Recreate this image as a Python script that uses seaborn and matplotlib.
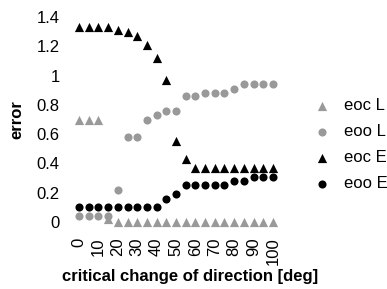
import numpy as np
import pandas as pd
import matplotlib
matplotlib.use("Agg")
import matplotlib.pyplot as plt
import seaborn as sns

# critical change of direction [deg]
angles = list(range(0, 101, 5))

eoc_L = [0.70, 0.70, 0.70, 0.02, 0, 0, 0, 0, 0, 0, 0,
         0, 0, 0, 0, 0, 0, 0, 0, 0, 0]
eoo_L = [0.04, 0.04, 0.04, 0.04, 0.22, 0.58, 0.58, 0.70, 0.73, 0.76, 0.76,
         0.86, 0.86, 0.88, 0.88, 0.88, 0.91, 0.94, 0.94, 0.94, 0.94]
eoc_E = [1.33, 1.33, 1.33, 1.33, 1.31, 1.30, 1.27, 1.21, 1.12, 0.97, 0.55,
         0.43, 0.37, 0.37, 0.37, 0.37, 0.37, 0.37, 0.37, 0.37, 0.37]
eoo_E = [0.10, 0.10, 0.10, 0.10, 0.10, 0.10, 0.10, 0.10, 0.10, 0.16, 0.19,
         0.25, 0.25, 0.25, 0.25, 0.25, 0.28, 0.28, 0.31, 0.31, 0.31]

yticks = [0, 0.2, 0.4, 0.6, 0.8, 1, 1.2, 1.4]
ytick_labels = ["0", "0.2", "0.4", "0.6", "0.8", "1", "1.2", "1.4"]
xticks = list(range(0, 101, 10))

sns.set_style("white")
plt.rcParams["font.family"] = ["Liberation Sans", "DejaVu Sans"]
plt.rcParams["text.color"] = "black"
plt.rcParams["axes.labelcolor"] = "black"
plt.rcParams["xtick.color"] = "black"
plt.rcParams["ytick.color"] = "black"

gray = "#999999"
series = [
    ("eoo L", eoo_L, gray, "o", 34),
    ("eoc L", eoc_L, gray, "^", 44),
    ("eoc E", eoc_E, "black", "^", 44),
    ("eoo E", eoo_E, "black", "o", 34),
]

fig = plt.figure(figsize=(3.87, 2.89), dpi=100)
ax = fig.add_axes([69.3 / 387, 0.2014, 213.4 / 387, 0.770])

for name, vals, color, marker, size in series:
    df = pd.DataFrame({"angle": angles, "error": vals})
    sns.scatterplot(data=df, x="angle", y="error", color=color, marker=marker,
                    s=size, linewidth=0, label=name, ax=ax)

fs = 12
ax.set_xlim(-5, 105)
ax.set_ylim(-0.06, 1.46)
ax.set_xticks(xticks)
ax.set_xticklabels([str(t) for t in xticks], rotation=90, fontsize=fs)
ax.set_yticks(yticks)
ax.set_yticklabels(ytick_labels, fontsize=fs)
ax.tick_params(axis="both", length=0)
ax.tick_params(axis="y", pad=7)
ax.tick_params(axis="x", pad=5)
sns.despine(ax=ax, left=True, bottom=True)

ax.set_xlabel("critical change of direction [deg]", fontsize=fs, fontweight="bold")
ax.xaxis.set_label_coords(0.566, -0.17)
ax.set_ylabel("error", fontsize=fs, fontweight="bold", labelpad=9)

handles, labels = ax.get_legend_handles_labels()
order = ["eoc L", "eoo L", "eoc E", "eoo E"]
hmap = dict(zip(labels, handles))
ax.legend([hmap[k] for k in order], order, loc="upper left",
          bbox_to_anchor=(314 / 387, 1 - 98 / 289), bbox_transform=fig.transFigure,
          frameon=False, fontsize=fs, handlelength=1, handletextpad=0.8,
          labelspacing=0.66, borderpad=0, borderaxespad=0)

fig.savefig("out.png", dpi=100)
